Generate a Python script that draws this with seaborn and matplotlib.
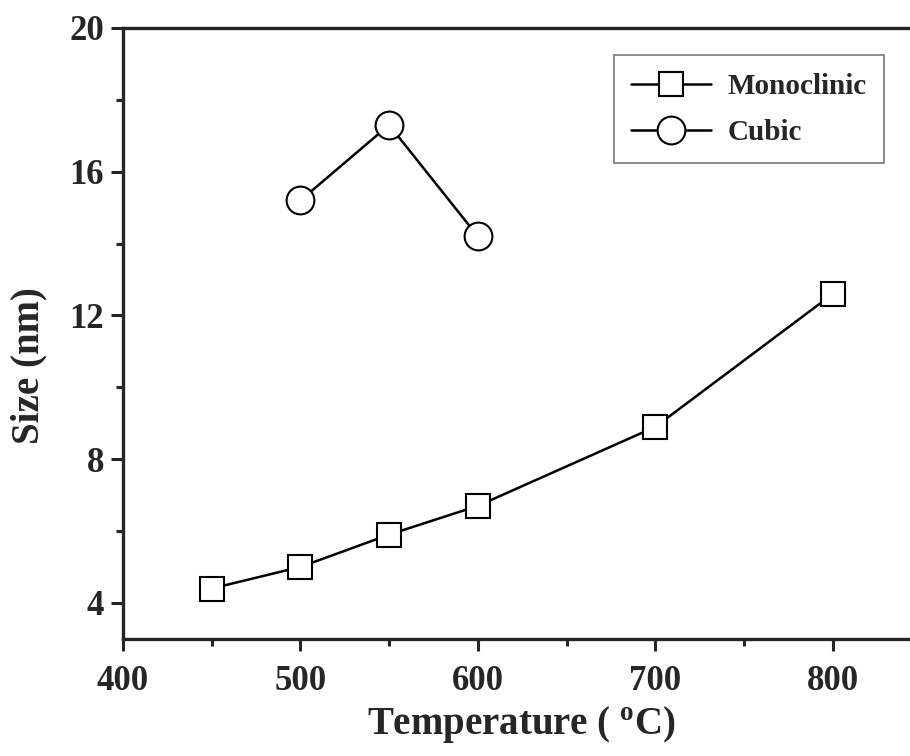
import matplotlib
matplotlib.use("Agg")
import matplotlib.pyplot as plt
import seaborn as sns
import pandas as pd
from matplotlib.ticker import MultipleLocator

sns.set_style("ticks")
plt.rcParams['font.family'] = ['Liberation Serif', 'DejaVu Serif']
plt.rcParams['font.weight'] = 'bold'
plt.rcParams['mathtext.fontset'] = 'custom'
plt.rcParams['mathtext.rm'] = 'Liberation Serif:bold'

mono_temp = [450, 500, 550, 600, 700, 800]
mono_size = [4.4, 5.0, 5.9, 6.7, 8.9, 12.6]
cubic_temp = [500, 550, 600]
cubic_size = [15.2, 17.3, 14.2]

mono = pd.DataFrame({"Temperature": mono_temp, "Size": mono_size})
cubic = pd.DataFrame({"Temperature": cubic_temp, "Size": cubic_size})

fig = plt.figure(figsize=(9.1, 7.56), dpi=100)
ax = fig.add_axes([0.135, 0.155, 0.87, 0.808])

sns.lineplot(data=mono, x="Temperature", y="Size", ax=ax, color="black", lw=1.8,
             marker="s", markersize=17, markerfacecolor="white", markeredgecolor="black",
             markeredgewidth=1.5, label="Monoclinic")
sns.lineplot(data=cubic, x="Temperature", y="Size", ax=ax, color="black", lw=1.8,
             marker="o", markersize=20, markerfacecolor="white", markeredgecolor="black",
             markeredgewidth=1.5, label="Cubic")

ax.set_xlim(400, 846)
ax.set_ylim(3, 20)
ax.xaxis.set_major_locator(MultipleLocator(100))
ax.xaxis.set_minor_locator(MultipleLocator(50))
ax.yaxis.set_major_locator(MultipleLocator(4))
ax.yaxis.set_minor_locator(MultipleLocator(2))
ax.set_yticks([4, 8, 12, 16, 20])

for s in ["left", "bottom", "top"]:
    ax.spines[s].set_linewidth(2.4)
ax.spines["right"].set_visible(False)
ax.tick_params(which="major", direction="out", length=8.5, width=2.2, labelsize=25)
ax.tick_params(which="minor", direction="out", length=5, width=2.2)
ax.tick_params(axis="x", which="major", pad=10)
ax.tick_params(axis="y", which="major", pad=5)
ax.tick_params(axis="x", top=False, which="both")
for lab in ax.get_xticklabels() + ax.get_yticklabels():
    lab.set_fontweight("bold")

ax.set_xlabel(r"Temperature ( $^{\mathrm{o}}$C)", fontsize=28, fontweight="bold")
ax.set_ylabel("Size (nm)", fontsize=28, fontweight="bold")
ax.xaxis.set_label_coords(0.504, -0.108)
ax.yaxis.set_label_coords(-0.095, 0.448)

leg = ax.legend(loc="upper left", bbox_to_anchor=(0.62, 0.955), frameon=True, fancybox=False,
                edgecolor="#555555", prop={"family": "Liberation Serif", "weight": "bold", "size": 21},
                markerscale=1.0, handlelength=2.75, handletextpad=0.55, borderpad=0.6,
                labelspacing=0.65, borderaxespad=0)
leg.get_frame().set_linewidth(1.2)

fig.savefig("out.png", dpi=100)
